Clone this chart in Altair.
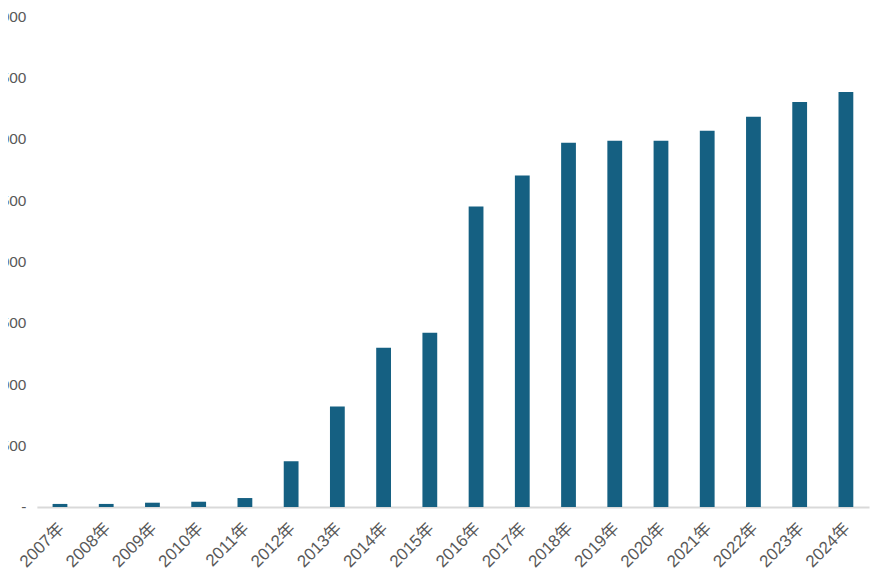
import altair as alt
import pandas as pd

years = ["2007年", "2008年", "2009年", "2010年", "2011年", "2012年", "2013年", "2014年", "2015年",
         "2016年", "2017年", "2018年", "2019年", "2020年", "2021年", "2022年", "2023年", "2024年"]
values = [25, 25, 35, 43, 73, 373, 820, 1298, 1420,
          2450, 2702, 2970, 2986, 2986, 3067, 3180, 3302, 3383]
y_ticks = [0, 500, 1000, 1500, 2000, 2500, 3000, 3500, 4000]

df = pd.DataFrame({"year": years, "value": values})

font = "Liberation Sans, Arial, Noto Sans CJK SC"

chart = alt.Chart(df).mark_bar(color="#156082").encode(
    x=alt.X("year:N", sort=years, title=None,
            scale=alt.Scale(paddingInner=0.68, paddingOuter=0.34),
            axis=alt.Axis(labelAngle=-45, labelFontSize=17, labelColor="#595959", labelFont=font,
                          ticks=False, domainColor="#d9d9d9", domainWidth=2, labelPadding=13,
                          labelOffset=-4, grid=False)),
    y=alt.Y("value:Q", title=None,
            scale=alt.Scale(domain=[0, 4000], nice=False),
            axis=alt.Axis(values=y_ticks, grid=False, domain=False, ticks=False,
                          labelFontSize=15.5, labelColor="#595959", labelFont=font, labelPadding=11,
                          labelExpr="datum.value == 0 ? '-' : format(datum.value, ',')"))
).properties(
    width=836, height=493,
    autosize=alt.AutoSizeParams(type="none"),
    padding={"left": 29, "top": 7, "right": 5, "bottom": 64}
).configure_view(stroke=None)

chart.save("out.html", embed_options={"renderer": "svg", "actions": False})
